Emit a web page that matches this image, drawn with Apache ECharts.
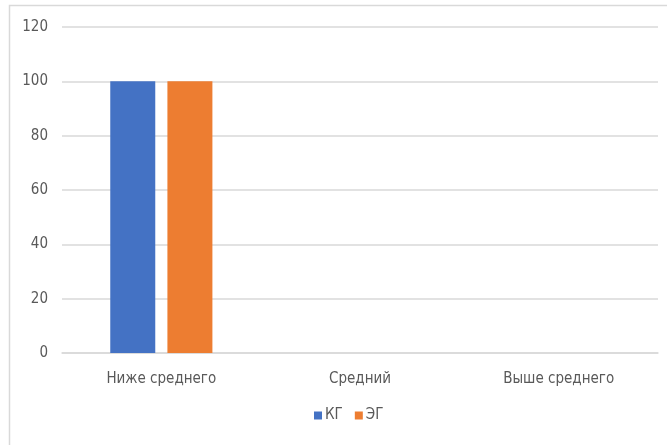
<!DOCTYPE html>
<html><head><meta charset="utf-8">
<script src="https://cdn.jsdelivr.net/npm/echarts@6/dist/echarts.min.js"></script>
<style>html,body{margin:0;padding:0;background:#fff}#c{width:667px;height:445px}</style>
</head><body><div id="c"></div>
<script>
const categories = ["Ниже среднего", "Средний", "Выше среднего"];
const seriesNames = ["КГ", "ЭГ"];
const kgValues = [100, 0, 0];
const egValues = [100, 0, 0];
const yTicks = [0, 20, 40, 60, 80, 100, 120];

const font = '"Liberation Sans Narrow", "DejaVu Sans Condensed", "Noto Sans", sans-serif';
const chart = echarts.init(document.getElementById('c'), null, {renderer: 'canvas'});
chart.setOption({
  animation: false,
  textStyle: {fontFamily: font},
  graphic: [{
    type: 'rect', shape: {x: 9.5, y: 5.5, width: 700, height: 500},
    style: {fill: 'none', stroke: '#D9D9D9', lineWidth: 1.5}, z: -1
  }],
  grid: {left: 62, right: 9, top: 27, bottom: 92, containLabel: false},
  legend: {
    data: seriesNames, bottom: 17, left: 309,
    itemWidth: 8, itemHeight: 8, itemGap: 12, icon: 'rect',
    textStyle: {fontFamily: font, fontSize: 15, color: '#595959', padding: [0,0,0,-2]}
  },
  xAxis: {
    type: 'category', data: categories,
    axisLine: {show: true, lineStyle: {color: '#D9D9D9', width: 1.5}},
    axisTick: {show: false},
    axisLabel: {fontFamily: font, fontSize: 15, color: '#595959', margin: 19}
  },
  yAxis: {
    type: 'value', min: yTicks[0], max: yTicks[yTicks.length-1], interval: 20,
    axisLine: {show: false}, axisTick: {show: false},
    splitLine: {lineStyle: {color: '#D9D9D9', width: 1.5}},
    axisLabel: {fontFamily: font, fontSize: 15, color: '#595959', margin: 14}
  },
  series: [
    {name: seriesNames[0], type: 'bar', data: kgValues, barWidth: 45, barGap: '27%',
     itemStyle: {color: '#4472C4'}},
    {name: seriesNames[1], type: 'bar', data: egValues, barWidth: 45,
     itemStyle: {color: '#ED7D31'}}
  ]
});
</script></body></html>
